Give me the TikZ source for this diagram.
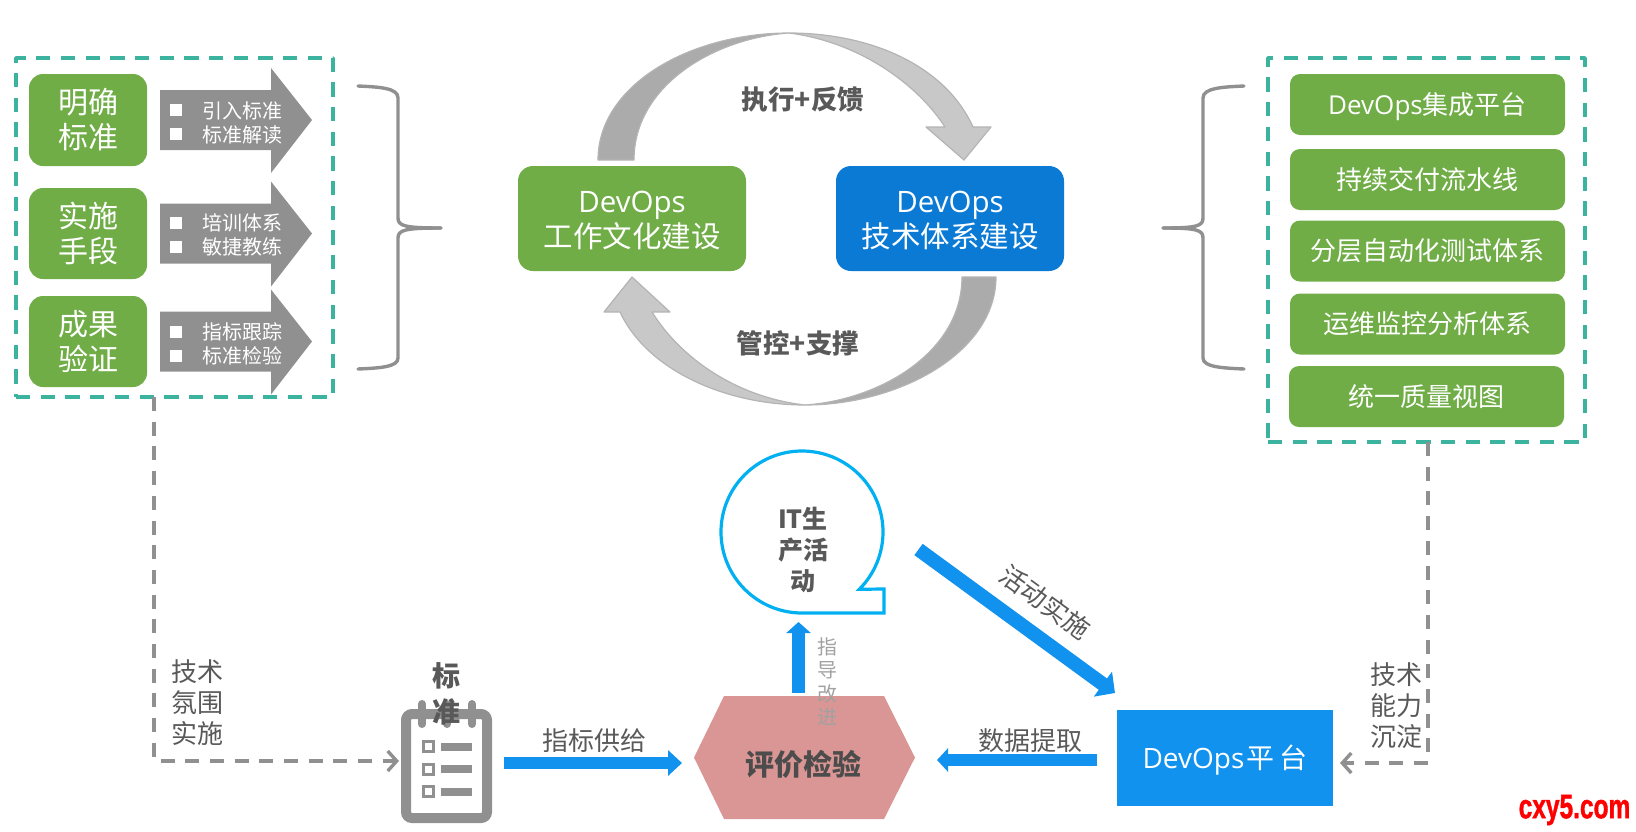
\documentclass[tikz,border=0pt]{standalone}
\usepackage{fontspec}
\setmainfont{Noto Sans CJK SC}
\newfontfamily\latinf{Open Sans}
\newfontfamily\markf[UprightFont=* Bold,FakeBold=1.5]{Liberation Sans}
\usetikzlibrary{arrows.meta,positioning}
\definecolor{grassgreen}{HTML}{70AD47}
\definecolor{deepblue}{HTML}{0B7AD5}
\definecolor{skyblue}{HTML}{1192EE}
\definecolor{teal}{HTML}{3BB39E}
\definecolor{midgray}{HTML}{909090}
\definecolor{textgray}{HTML}{595959}
\definecolor{darkcurve}{HTML}{ABABAB}
\definecolor{lightcurve}{HTML}{C8C8C8}
\definecolor{linecurve}{HTML}{B4B4B4}
\definecolor{rose}{HTML}{D99694}
\definecolor{ringblue}{HTML}{00B0F0}
\newcommand{\fs}[1]{\fontsize{#1}{#1}\selectfont}
\newcommand{\C}{\rule[-0.12em]{0pt}{1em}}
\newcommand{\DO}{\smash{\latinf DevOps}}
\tikzset{
  x=1pt,y=-1pt,
  every node/.style={inner sep=0pt,outer sep=0pt},
  tealbox/.style={draw=teal,line width=3.6pt,dash pattern=on 14.3pt off 10.4pt,line join=round},
  greenbig/.style={fill=grassgreen,rounded corners=14pt,text=white,align=center,font=\fs{30},minimum width=118pt},
  greenwide/.style={fill=grassgreen,rounded corners=10pt,text=white,align=center,font=\fs{26},minimum width=275pt,minimum height=61pt},
  centerbox/.style={rounded corners=15pt,text=white,align=center,font=\fs{29.5},minimum width=228pt,minimum height=105pt},
  grayarrow/.style={fill=midgray},
  whitesq/.style={fill=white,minimum width=12pt,minimum height=12pt},
  smalltext/.style={text=white,font=\fs{20}},
  graylabel/.style={text=textgray,font=\fs{26}},
  boldlabel/.style={text=textgray,font=\bfseries\fs{26.5}},
  bluearrow/.style={draw=skyblue,line width=12pt},
  dashconn/.style={draw=midgray,line width=3.4pt,dash pattern=on 14pt off 10.7pt},
  bracepath/.style={draw=midgray,line width=3.4pt,line cap=round},
  curveout/.style={draw=linecurve,line width=1.2pt,line join=round}
}
\newcommand{\grayarrowat}[1]{%
  \fill[grayarrow] (160,#1-30) -- (271,#1-30) -- (271,#1-52) -- (312,#1) -- (271,#1+53) -- (271,#1+30) -- (160,#1+30) -- cycle;}
\begin{document}
\begin{tikzpicture}
\useasboundingbox (0,0) rectangle (1636,831);
% left panel
\node[tealbox,minimum width=317pt,minimum height=339pt] (leftbox) at (174.5,227.5) {};
\node[greenbig,minimum height=92pt] (g1) at (88,120) {\C 明确\\[5pt]\C 标准};
\node[greenbig,minimum height=91pt] (g2) at (88,233.5) {\C 实施\\[5pt]\C 手段};
\node[greenbig,minimum height=91pt] (g3) at (88,341.5) {\C 成果\\[5pt]\C 验证};
\grayarrowat{120}
\grayarrowat{233.5}
\grayarrowat{341.5}
\node[whitesq] (b1) at (176,110) {};
\node[whitesq] (b2) at (176,134) {};
\node[whitesq] (b3) at (176,223) {};
\node[whitesq] (b4) at (176,247) {};
\node[whitesq] (b5) at (176,332) {};
\node[whitesq] (b6) at (176,356) {};
\node[smalltext] (t1) at (242,110.5) {\C 引入标准};
\node[smalltext] (t2) at (242,134.5) {\C 标准解读};
\node[smalltext] (t3) at (242,223) {\C 培训体系};
\node[smalltext] (t4) at (242,247) {\C 敏捷教练};
\node[smalltext] (t5) at (242,332) {\C 指标跟踪};
\node[smalltext] (t6) at (242,356) {\C 标准检验};
% braces
\draw[bracepath] (358,86) .. controls (380,87) and (398,88) .. (398,98) -- (398,218) .. controls (398,226) and (405,228) .. (441,228);
\draw[bracepath] (441,228) .. controls (405,228) and (398,230) .. (398,238) -- (398,358) .. controls (398,367) and (380,368) .. (358,369);
\draw[bracepath] (1244,86) .. controls (1222,87) and (1203,88) .. (1203,98) -- (1203,218) .. controls (1203,226) and (1197,228) .. (1163,228);
\draw[bracepath] (1163,228) .. controls (1197,228) and (1203,230) .. (1203,238) -- (1203,358) .. controls (1203,367) and (1222,368) .. (1244,369);
% right panel
\node[tealbox,minimum width=317pt,minimum height=384pt] (rightbox) at (1426.5,250) {};
\node[greenwide] (r1) at (1427.5,104.5) {\C\DO 集成平台};
\node[greenwide] (r2) at (1427.5,179.5) {\C 持续交付流水线};
\node[greenwide] (r3) at (1427.5,251) {\C 分层自动化测试体系};
\node[greenwide] (r4) at (1427.5,324) {\C 运维监控分析体系};
\node[greenwide] (r5) at (1426.5,396.5) {\C 统一质量视图};
% cycle arrows
\filldraw[curveout,fill=lightcurve] (789,33) .. controls (870,33) and (945,65) .. (973,127) -- (991,127) -- (964,160) -- (926,127) -- (945,127) .. controls (918,85) and (860,42) .. (789,33) -- cycle;
\filldraw[curveout,fill=darkcurve] (598,160) .. controls (598,85) and (690,33) .. (789,33) .. controls (715,38) and (634,85) .. (634,160) -- cycle;
\filldraw[curveout,fill=lightcurve] (805,405) .. controls (725,405) and (647,370) .. (620,312) -- (604,312) -- (632,277) -- (670,312) -- (652,312) .. controls (680,357) and (735,397) .. (805,405) -- cycle;
\filldraw[curveout,fill=darkcurve] (996,277) .. controls (996,352) and (900,405) .. (805,405) .. controls (880,400) and (962,352) .. (962,277) -- cycle;
\node[centerbox,fill=grassgreen] (culture) at (632,218.5) {\C\DO\\[5.5pt]\C 工作文化建设};
\node[centerbox,fill=deepblue] (tech) at (950,218.5) {\C\DO\\[5.5pt]\C 技术体系建设};
\node[boldlabel] (loop1) at (803,99) {\C 执行+反馈};
\node[boldlabel] (loop2) at (798,343) {\C 管控+支撑};
% lower row
\node[minimum width=162pt,minimum height=162pt] (bubble) at (802,532) {};
\draw[draw=ringblue,line width=3.2pt,fill=white,line join=miter] (802,613) arc[start angle=90,end angle=405,radius=81] -- (884,589) -- (884,613) -- cycle;
\node[boldlabel,align=center,font=\bfseries\fs{25}] (bubbletext) at (803,550) {\C IT生\\[6pt]\C 产活\\[6pt]\C 动};
\fill[rose] (724,696) -- (884,696) -- (915,757.5) -- (884,819) -- (724,819) -- (694,757.5) -- cycle;
\node[minimum width=221pt,minimum height=123pt] (hex) at (804.5,757.5) {};
\node[text=textgray!85!black,font=\bfseries\fs{29}] (hextext) at (803,764) {\C 评价检验};
\node[text=midgray!85!white,font=\fs{20},align=center] (guide) at (827,682) {\C 指\\[3.5pt]\C 导\\[3.5pt]\C 改\\[3.5pt]\C 进};
\node[fill=skyblue,text=white,font=\fs{28},minimum width=216pt,minimum height=96pt] (platform) at (1225,758) {\C\DO\hspace{2pt}平\hspace{5pt}台};
\coordinate (actstart) at (918.5,549.5);
\node[draw=midgray,fill=white,line width=10pt,rounded corners=6pt,minimum width=81pt,minimum height=104pt] (clip) at (446.5,766) {};
\foreach \xx in {422,447,472}{
  \draw[midgray,line width=8pt,line cap=round] (\xx,704) -- (\xx,724);
}
\foreach \yy in {746.5,769,791.5}{
  \draw[midgray,line width=3pt] (423.5,\yy-5) rectangle (433,\yy+5);
  \fill[midgray] (441,\yy-4) rectangle (472,\yy+4);
}
\node[text=textgray,font=\bfseries\fs{28},align=center] (stdlabel) at (446,694) {\C 标\\[8pt]\C 准};
% connectors
\draw[bluearrow,shorten <=17pt,shorten >=12pt,-{Triangle[length=14pt,width=25pt]}] ([yshift=3pt]clip.east) -- ([yshift=-5.5pt]hex.west);
\draw[bluearrow,shorten <=20pt,shorten >=22pt,-{Triangle[length=11pt,width=23pt]}] ([yshift=-2pt]platform.west) -- ([yshift=-2.5pt]hex.east);
\draw[bluearrow,line width=13pt,shorten <=3pt,shorten >=9pt,-{Triangle[length=11pt,width=24pt]}] ([xshift=-6pt]hex.north) -- ([xshift=-3.5pt]bubble.south);
\draw[bluearrow,line width=14pt,-{Triangle[length=15pt,width=30pt]}] (actstart) -- ([xshift=-2pt,yshift=17pt]platform.north west);
\draw[dashconn,shorten >=7pt,-{Straight Barb[length=9pt,width=20pt]}] ([xshift=-20.5pt]leftbox.south) |- ([yshift=5pt]clip.west);
\draw[dashconn,shorten >=7pt,-{Straight Barb[length=9pt,width=20pt]}] ([xshift=1.5pt]rightbox.south) |- ([yshift=-5pt]platform.east);
% labels
\node[graylabel] (l1) at (197,672) {\C 技术};
\node[graylabel] (l2) at (197,703) {\C 氛围};
\node[graylabel] (l3) at (197,734) {\C 实施};
\node[graylabel] (r6) at (1396,675) {\C 技术};
\node[graylabel] (r7) at (1396,706) {\C 能力};
\node[graylabel] (r8) at (1396,737) {\C 沉淀};
\node[graylabel] (supply) at (594,741) {\C 指标供给};
\node[graylabel] (extract) at (1030,741) {\C 数据提取};
\node[graylabel,rotate=-36] (act) at (1045,602) {\C 活动实施};
\node[text=red,font=\markf\fs{34},xscale=0.72] (mark) at (1574.5,810) {cxy5.com};
\end{tikzpicture}
\end{document}
